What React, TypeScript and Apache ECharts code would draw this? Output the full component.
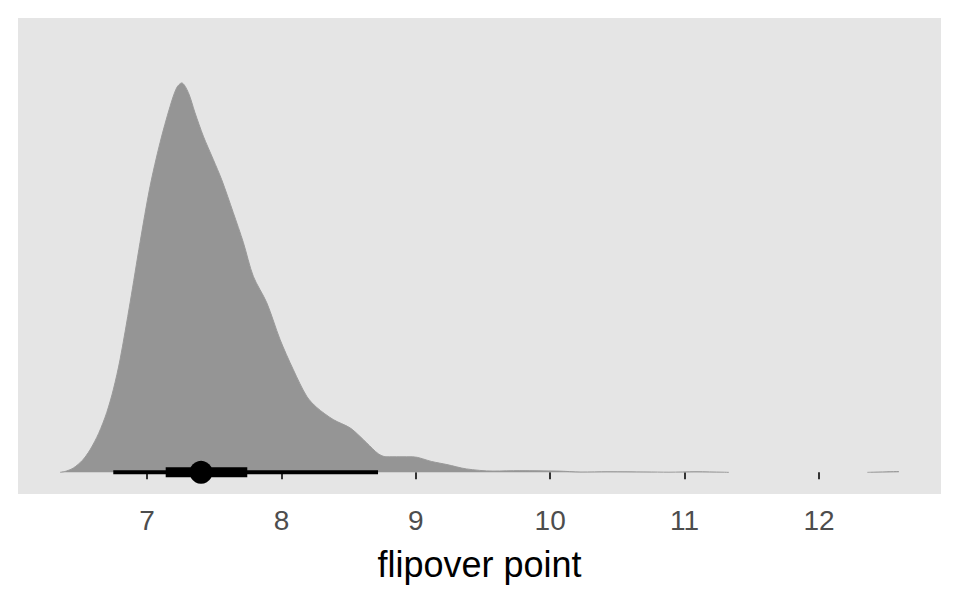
import React, { useEffect, useRef } from "react";
import * as echarts from "echarts";

// x axis
const xTicks = [7, 8, 9, 10, 11, 12];
const xMin = 6.04;
const xMax = 12.908;
const axisTitle = "flipover point";

// density slab (scaled so peak = 0.9); null = no visible density (gap in the tail)
const densityX = [
  6.353, 6.40, 6.452, 6.52, 6.576, 6.64, 6.700, 6.75, 6.799, 6.874, 6.948, 7.022, 7.097, 7.171,
  7.221, 7.258, 7.307, 7.357, 7.419, 7.493, 7.556, 7.642, 7.717, 7.791, 7.891, 7.990,
  8.089, 8.188, 8.263, 8.386, 8.510, 8.585, 8.635, 8.721, 8.778, 8.882, 8.977, 9.119,
  9.232, 9.376, 9.574, 9.775, 10.058, 10.229, 10.430, 10.713, 10.884, 11.085, 11.286,
  11.33, 11.8, 12.36, 12.424, 12.595,
];
const densityY: (number | null)[] = [
  0.0, 0.003, 0.010, 0.028, 0.052, 0.090, 0.138, 0.192, 0.260, 0.392, 0.531, 0.660, 0.762, 0.845,
  0.889, 0.900, 0.878, 0.831, 0.777, 0.723, 0.676, 0.600, 0.531, 0.453, 0.392, 0.307,
  0.237, 0.176, 0.150, 0.122, 0.103, 0.083, 0.068, 0.043, 0.036, 0.036, 0.036, 0.025,
  0.018, 0.008, 0.003, 0.004, 0.003, 0.0008, 0.0015, 0.001, 0.0004, 0.0015, 0.0004,
  0.0, null, 0.0, 0.0006, 0.002,
];

// point interval
const pointEstimate = 7.402;
const interval66 = [7.139, 7.746];
const interval95 = [6.749, 8.719];

export default function App() {
  const ref = useRef<HTMLDivElement>(null);
  useEffect(() => {
    if (!ref.current) return;
    const chart = echarts.init(ref.current, null, { renderer: "svg" });
    const font = "'Liberation Sans', Arial, Helvetica, sans-serif";
    chart.setOption({
      animation: false,
      backgroundColor: "#FFFFFF",
      grid: {
        left: 18,
        right: 19,
        top: 18,
        bottom: 106,
        show: true,
        backgroundColor: "#E5E5E5",
        borderWidth: 0,
      },
      xAxis: {
        type: "value",
        min: xMin,
        max: xMax,
        axisLine: { show: false },
        splitLine: { show: false },
        axisTick: {
          show: true,
          length: 7,
          lineStyle: { color: "#333333", width: 2 },
          customValues: xTicks,
        },
        axisLabel: {
          customValues: xTicks,
          color: "#4D4D4D",
          fontSize: 28,
          fontFamily: font,
          margin: 12,
        },
        name: axisTitle,
        nameLocation: "middle",
        nameGap: 52,
        nameTextStyle: { color: "#000000", fontSize: 36, fontFamily: font },
      },
      yAxis: { type: "value", min: -0.05, max: 1.05, show: false },
      series: [
        {
          type: "line",
          data: densityX.map((x, i) => [x, densityY[i] === null ? "-" : densityY[i]]),
          smooth: 0.3,
          connectNulls: false,
          showSymbol: false,
          lineStyle: { width: 1, color: "#9A9A9A" },
          areaStyle: { color: "#959595", opacity: 1 },
          silent: true,
          z: 1,
        },
        {
          type: "line",
          data: [
            [interval95[0], 0],
            [interval95[1], 0],
          ],
          showSymbol: false,
          lineStyle: { color: "#000000", width: 4, cap: "butt" },
          silent: true,
          z: 3,
        },
        {
          type: "line",
          data: [
            [interval66[0], 0],
            [interval66[1], 0],
          ],
          showSymbol: false,
          lineStyle: { color: "#000000", width: 10, cap: "butt" },
          silent: true,
          z: 4,
        },
        {
          type: "scatter",
          data: [[pointEstimate, 0]],
          symbolSize: 23,
          itemStyle: { color: "#000000", opacity: 1 },
          silent: true,
          z: 5,
        },
      ],
    });
    return () => chart.dispose();
  }, []);
  return (
    <div
      ref={ref}
      style={{ position: "fixed", left: 0, top: 0, width: 960, height: 600 }}
    />
  );
}
